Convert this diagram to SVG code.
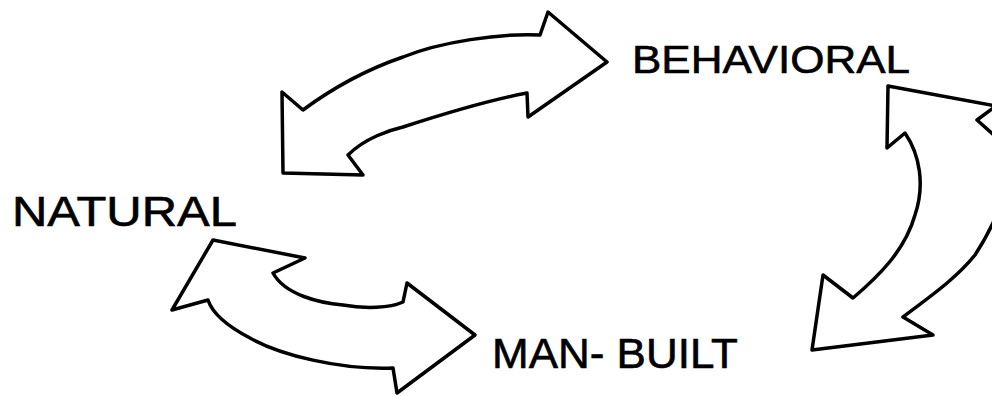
<svg xmlns="http://www.w3.org/2000/svg" width="992" height="397" viewBox="0 0 992 397">
  <style>
    .arrow { fill: #ffffff; stroke: #000000; stroke-width: 3.5; stroke-linejoin: round; stroke-linecap: round; }
    .label { font-family: "Liberation Sans", Arial, sans-serif; fill: #000000; stroke: #000000; stroke-width: 0.6; }
  </style>
  <rect width="992" height="397" fill="#ffffff"/>
  <g id="connectors">
    <path id="arrow-natural-behavioral" class="arrow" d="M 607,62 L 548,12 L 540,35 C 500,33 440,42 403,57 C 365,70 330,90 303,110 L 282,92 L 283,173 L 363,175 L 348,155 C 365,138 390,130 403,127 C 440,115 490,100 527,93 L 528,117 Z"/>
    <path id="arrow-behavioral-manbuilt" class="arrow" d="M 996,106 L 888,86 L 887,148 L 905,133 C 920,155 925,185 915,215 C 905,250 880,275 853,298 L 823,275 L 812,350 L 933,335 L 903,317 C 925,300 955,280 975,255 C 985,240 992,226 998,212 L 1010,170 L 996,137 L 977,120 Z"/>
    <path id="arrow-natural-manbuilt" class="arrow" d="M 172,310 L 213,240 L 305,258 L 273,273 C 285,295 320,303 343,305 C 365,309 390,308 403,302 L 407,283 L 475,335 L 397,393 L 393,368 C 340,370 280,355 250,338 C 225,325 212,312 208,300 Z"/>
  </g>
  <g id="node-behavioral">
    <text class="label" x="632" y="73" font-size="39" textLength="278" lengthAdjust="spacingAndGlyphs">BEHAVIORAL</text>
  </g>
  <g id="node-natural">
    <text class="label" x="12" y="226" font-size="42" textLength="225" lengthAdjust="spacingAndGlyphs">NATURAL</text>
  </g>
  <g id="node-manbuilt">
    <text class="label" x="492" y="368" font-size="42" textLength="246" lengthAdjust="spacingAndGlyphs">MAN- BUILT</text>
  </g>
</svg>
